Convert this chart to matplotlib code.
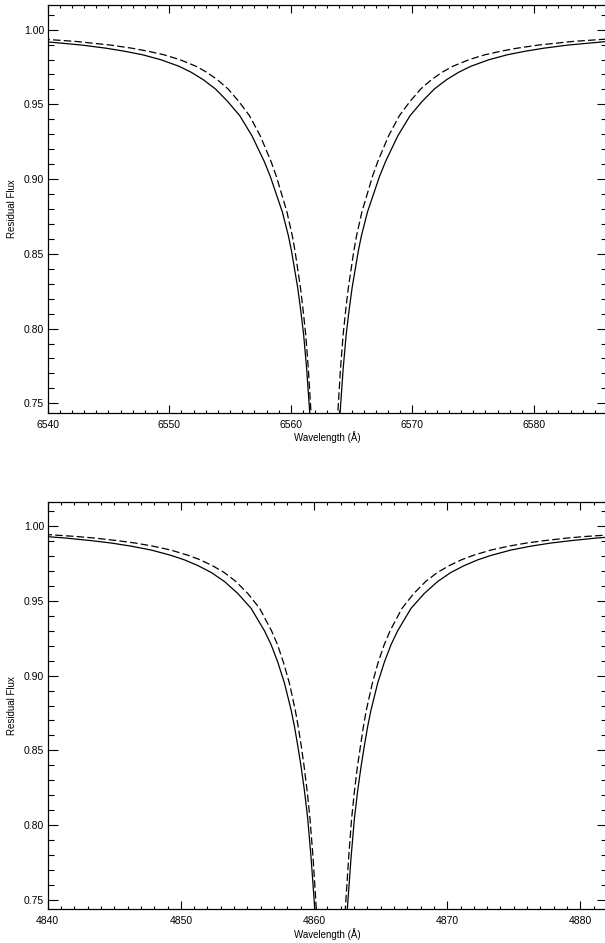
import matplotlib
matplotlib.use("Agg")
import matplotlib.pyplot as plt
from matplotlib.ticker import MultipleLocator

plt.rcParams['font.family'] = ['Liberation Sans', 'DejaVu Sans']

# H-alpha, solid profile (blue and red wings)
ha_solid_blue_wave = [6539.6, 6542.8, 6544.8, 6546.3, 6547.8, 6549.3, 6550.8, 6551.8, 6552.8, 6553.8,
                      6554.8, 6555.8, 6556.8, 6557.8, 6558.3, 6558.8, 6559.3, 6559.8, 6560.05, 6560.3,
                      6560.55, 6560.8, 6561.05, 6561.3, 6561.6]
ha_solid_blue_flux = [0.9921, 0.9897, 0.9876, 0.9856, 0.9832, 0.9799, 0.9755, 0.9715, 0.9665, 0.9603,
                      0.952, 0.9424, 0.929, 0.912, 0.902, 0.890, 0.878, 0.862, 0.852, 0.840,
                      0.828, 0.813, 0.796, 0.773, 0.738]
ha_solid_red_wave = [6564.0, 6564.3, 6564.55, 6564.8, 6565.05, 6565.3, 6565.55, 6565.8, 6566.3, 6566.8,
                     6567.3, 6567.8, 6568.8, 6569.8, 6570.8, 6571.8, 6572.8, 6573.8, 6574.8, 6576.3,
                     6577.8, 6579.3, 6580.8, 6582.8, 6586.0]
ha_solid_red_flux = [0.738, 0.773, 0.796, 0.813, 0.828, 0.840, 0.852, 0.862, 0.878, 0.890,
                     0.902, 0.912, 0.929, 0.9424, 0.952, 0.9603, 0.9665, 0.9715, 0.9755, 0.9799,
                     0.9832, 0.9856, 0.9876, 0.9897, 0.9921]

# H-alpha, dashed profile
ha_dash_blue_wave = [6539.56, 6542.34, 6545.16, 6546.92, 6548.24, 6549.56, 6550.88, 6552.20, 6553.08, 6553.96,
                     6554.84, 6555.72, 6556.60, 6557.48, 6558.36, 6558.80, 6559.24, 6559.68, 6560.12, 6560.34,
                     6560.56, 6560.78, 6561.00, 6561.22, 6561.44, 6561.70]
ha_dash_blue_flux = [0.9937, 0.9921, 0.9897, 0.9876, 0.9856, 0.9832, 0.9799, 0.9755, 0.9715, 0.9665,
                     0.9603, 0.952, 0.9424, 0.929, 0.912, 0.902, 0.890, 0.878, 0.862, 0.852,
                     0.840, 0.828, 0.813, 0.796, 0.773, 0.738]
ha_dash_red_wave = [6563.82, 6564.08, 6564.30, 6564.52, 6564.74, 6564.96, 6565.18, 6565.40, 6565.84, 6566.28,
                    6566.72, 6567.16, 6568.04, 6568.92, 6569.80, 6570.68, 6571.56, 6572.44, 6573.32, 6574.64,
                    6575.96, 6577.28, 6578.60, 6580.36, 6583.18, 6585.96]
ha_dash_red_flux = [0.738, 0.773, 0.796, 0.813, 0.828, 0.840, 0.852, 0.862, 0.878, 0.890,
                    0.902, 0.912, 0.929, 0.9424, 0.952, 0.9603, 0.9665, 0.9715, 0.9755, 0.9799,
                    0.9832, 0.9856, 0.9876, 0.9897, 0.9921, 0.9937]

# H-beta, solid profile
hb_solid_blue_wave = [4839.78, 4841.28, 4843.28, 4844.78, 4846.28, 4847.78, 4849.28, 4850.28, 4851.28, 4852.28,
                      4853.28, 4854.28, 4855.28, 4856.28, 4856.78, 4857.28, 4857.78, 4858.28, 4858.53, 4858.78,
                      4859.03, 4859.28, 4859.53, 4859.78, 4860.08]
hb_solid_blue_flux = [0.9932, 0.9922, 0.9904, 0.9888, 0.9867, 0.9841, 0.9805, 0.9775, 0.9737, 0.9691,
                      0.963, 0.955, 0.945, 0.930, 0.9207, 0.909, 0.895, 0.877, 0.866, 0.853,
                      0.839, 0.823, 0.804, 0.778, 0.741]
hb_solid_red_wave = [4862.48, 4862.78, 4863.03, 4863.28, 4863.53, 4863.78, 4864.03, 4864.28, 4864.78, 4865.28,
                     4865.78, 4866.28, 4867.28, 4868.28, 4869.28, 4870.28, 4871.28, 4872.28, 4873.28, 4874.78,
                     4876.28, 4877.78, 4879.28, 4881.28, 4882.78]
hb_solid_red_flux = [0.741, 0.778, 0.804, 0.823, 0.839, 0.853, 0.866, 0.877, 0.895, 0.909,
                     0.9207, 0.930, 0.945, 0.955, 0.963, 0.9691, 0.9737, 0.9775, 0.9805, 0.9841,
                     0.9867, 0.9888, 0.9904, 0.9922, 0.9932]

# H-beta, dashed profile
hb_dash_blue_wave = [4839.76, 4842.13, 4843.46, 4845.24, 4846.58, 4847.91, 4849.25, 4850.58, 4851.47, 4852.36,
                     4853.25, 4854.14, 4855.03, 4855.92, 4856.81, 4857.26, 4857.70, 4858.15, 4858.59, 4858.81,
                     4859.04, 4859.26, 4859.48, 4859.70, 4859.93, 4860.19]
hb_dash_blue_flux = [0.9946, 0.9932, 0.9922, 0.9904, 0.9888, 0.9867, 0.9841, 0.9805, 0.9775, 0.9737,
                     0.9691, 0.963, 0.955, 0.945, 0.930, 0.9207, 0.909, 0.895, 0.877, 0.866,
                     0.853, 0.839, 0.823, 0.804, 0.778, 0.741]
hb_dash_red_wave = [4862.33, 4862.60, 4862.82, 4863.04, 4863.26, 4863.49, 4863.71, 4863.93, 4864.38, 4864.82,
                    4865.27, 4865.71, 4866.60, 4867.49, 4868.38, 4869.27, 4870.16, 4871.05, 4871.94, 4873.28,
                    4874.61, 4875.95, 4877.28, 4879.06, 4880.40, 4882.76]
hb_dash_red_flux = [0.741, 0.778, 0.804, 0.823, 0.839, 0.853, 0.866, 0.877, 0.895, 0.909,
                    0.9207, 0.930, 0.945, 0.955, 0.963, 0.9691, 0.9737, 0.9775, 0.9805, 0.9841,
                    0.9867, 0.9888, 0.9904, 0.9922, 0.9932, 0.9946]

xranges = [(6540, 6586), (4840, 4882)]
yrange = (0.7435, 1.0165)

fig = plt.figure(figsize=(6.05, 9.43), dpi=100)
ax_top = fig.add_axes([0.0788, 0.5620, 0.9245, 0.4327])
ax_bot = fig.add_axes([0.0788, 0.0357, 0.9245, 0.4323])

panels = [
    (ax_top, (ha_solid_blue_wave, ha_solid_blue_flux, ha_solid_red_wave, ha_solid_red_flux),
     (ha_dash_blue_wave, ha_dash_blue_flux, ha_dash_red_wave, ha_dash_red_flux)),
    (ax_bot, (hb_solid_blue_wave, hb_solid_blue_flux, hb_solid_red_wave, hb_solid_red_flux),
     (hb_dash_blue_wave, hb_dash_blue_flux, hb_dash_red_wave, hb_dash_red_flux)),
]

for (ax, solid, dashed), xr in zip(panels, xranges):
    ax.plot(solid[0], solid[1], color='black', lw=0.9)
    ax.plot(solid[2], solid[3], color='black', lw=0.9)
    for w, f in [(dashed[0], dashed[1]), (dashed[2], dashed[3])]:
        ln, = ax.plot(w, f, color='black', lw=0.9)
        ln.set_dashes([6, 2.6])

    ax.set_xlim(*xr)
    ax.set_ylim(*yrange)
    ax.xaxis.set_major_locator(MultipleLocator(10))
    ax.xaxis.set_minor_locator(MultipleLocator(1))
    ax.yaxis.set_major_locator(MultipleLocator(0.05))
    ax.yaxis.set_minor_locator(MultipleLocator(0.01))
    ax.yaxis.set_major_formatter(plt.FormatStrFormatter('%.2f'))

    ax.tick_params(axis='both', which='both', direction='in', top=True, right=True,
                   labelsize=7.5, width=0.8, colors='black')
    ax.tick_params(axis='x', which='major', length=5.5, pad=5)
    ax.tick_params(axis='x', which='minor', length=2.5)
    ax.tick_params(axis='y', which='major', length=7.5, pad=2.5)
    ax.tick_params(axis='y', which='minor', length=4)
    for sp in ax.spines.values():
        sp.set_linewidth(0.9)

    ax.set_xlabel('Wavelength (Å)', fontsize=7, labelpad=1)
    ax.set_ylabel('Residual Flux', fontsize=7, labelpad=5)

fig.savefig('out.png', dpi=100)
